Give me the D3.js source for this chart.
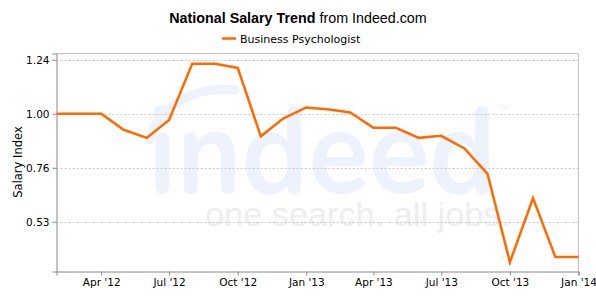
<!DOCTYPE html>
<html><head><meta charset="utf-8">
<script src="https://cdn.jsdelivr.net/npm/d3@7"></script>
<style>body{margin:0;background:#fff}svg{display:block}</style>
</head><body>
<svg id="c" width="596" height="296"></svg>
<script>
const months = ["2012-02","2012-03","2012-04","2012-05","2012-06","2012-07","2012-08","2012-09","2012-10","2012-11","2012-12",
  "2013-01","2013-02","2013-03","2013-04","2013-05","2013-06","2013-07","2013-08","2013-09","2013-10","2013-11","2013-12","2014-01"];
const salaryIndex = [1.00,1.00,1.00,0.929,0.893,0.973,1.222,1.222,1.204,0.90,0.979,
  1.028,1.019,1.006,0.938,0.938,0.893,0.902,0.846,0.733,0.340,0.625,0.363,0.363];
const yTickValues = [1.24,1.00,0.76,0.52];
const yTickLabels = ["1.24","1.00","0.76","0.53"];
const xTickDates = ["2012-04","2012-07","2012-10","2013-01","2013-04","2013-07","2013-10","2014-01"];
const xTickLabels = ["Apr '12","Jul '12","Oct '12","Jan '13","Apr '13","Jul '13","Oct '13","Jan '14"];
const seriesName = "Business Psychologist";

const parse = d3.timeParse("%Y-%m");
const data = months.map((m,i)=>({d:parse(m), v:salaryIndex[i]}));
const svg = d3.select("#c");
const L=56.5, R=578.5, T=53.5, B=271.5;
const x = d3.scaleTime().domain([parse(months[0]), parse(months[months.length-1])]).range([L,R]);
const y = d3.scaleLinear().domain([0.299,1.268]).range([B,T]);

// watermark
const wm = svg.append("g");
wm.append("text").attr("x",148).attr("y",193).attr("font-family","Arial Rounded MT Bold, Nunito, Lato, sans-serif")
  .attr("font-weight","bold").attr("font-size",122).attr("fill","#eef2fc").attr("textLength",348).attr("lengthAdjust","spacingAndGlyphs").text("indeed");
wm.append("path").attr("d","M150,140 A75,60 0 0 1 235,90").attr("fill","none").attr("stroke","#eef2fc").attr("stroke-width",9).attr("stroke-linecap","round");
wm.append("text").attr("x",498).attr("y",113).attr("font-family","Liberation Sans, Arial, sans-serif").attr("font-size",12).attr("fill","#eef0f5").text("™");
wm.append("text").attr("x",205).attr("y",226).attr("font-family","Liberation Sans, Arial, sans-serif")
  .attr("font-size",33).attr("fill","#eeeeee").attr("textLength",305).attr("lengthAdjust","spacingAndGlyphs").text("one search. all jobs.");

// grid
svg.append("g").selectAll("line").data(yTickValues).join("line")
  .attr("x1",L).attr("x2",R).attr("y1",d=>Math.round(y(d))+0.5).attr("y2",d=>Math.round(y(d))+0.5)
  .attr("stroke","#c8c8c8").attr("stroke-dasharray","2,2");

// frame top/right
svg.append("path").attr("d",`M${L},${T}H${R}V${B}`).attr("fill","none").attr("stroke","#c0c0c0");

// axes
const yAxis = d3.axisLeft(y).tickValues(yTickValues).tickFormat((d,i)=>yTickLabels[i]).tickSizeOuter(0).tickSize(4).tickPadding(3);
const gy = svg.append("g").attr("transform",`translate(${L},0)`).call(yAxis);
const xAxis = d3.axisBottom(x).tickValues(xTickDates.map(parse)).tickFormat((d,i)=>xTickLabels[i]).tickSizeOuter(0).tickSize(4).tickPadding(3);
const gx = svg.append("g").attr("transform",`translate(0,${B})`).call(xAxis);
[gx,gy].forEach(g=>{
  g.select(".domain").attr("stroke","#888");
  g.selectAll(".tick line").attr("stroke","#888");
  g.selectAll("text").attr("font-family","DejaVu Sans, sans-serif").attr("font-size",10.5).attr("fill","#000");
});

svg.append("text").attr("transform","translate(22,162) rotate(-90)").attr("text-anchor","middle")
  .attr("font-family","DejaVu Sans, sans-serif").attr("font-size",11.5).text("Salary Index");

// line
svg.append("path").datum(data).attr("fill","none").attr("stroke","#ff6a00").attr("stroke-width",2.5)
  .attr("stroke-linejoin","miter").attr("d",d3.line().x(d=>x(d.d)).y(d=>y(d.v)));

// title
const t = svg.append("text").attr("x",298).attr("y",23).attr("text-anchor","middle")
  .attr("font-family","Liberation Sans, Arial, sans-serif").attr("font-size",14.3);
t.append("tspan").attr("font-weight","bold").text("National Salary Trend");
t.append("tspan").text(" from Indeed.com");

// legend
svg.append("line").attr("x1",222).attr("x2",236).attr("y1",38.5).attr("y2",38.5).attr("stroke","#ff6a00").attr("stroke-width",2.5);
svg.append("text").attr("x",240).attr("y",42.5).attr("font-family","DejaVu Sans, sans-serif").attr("font-size",11).text(seriesName);
</script>
</body></html>
